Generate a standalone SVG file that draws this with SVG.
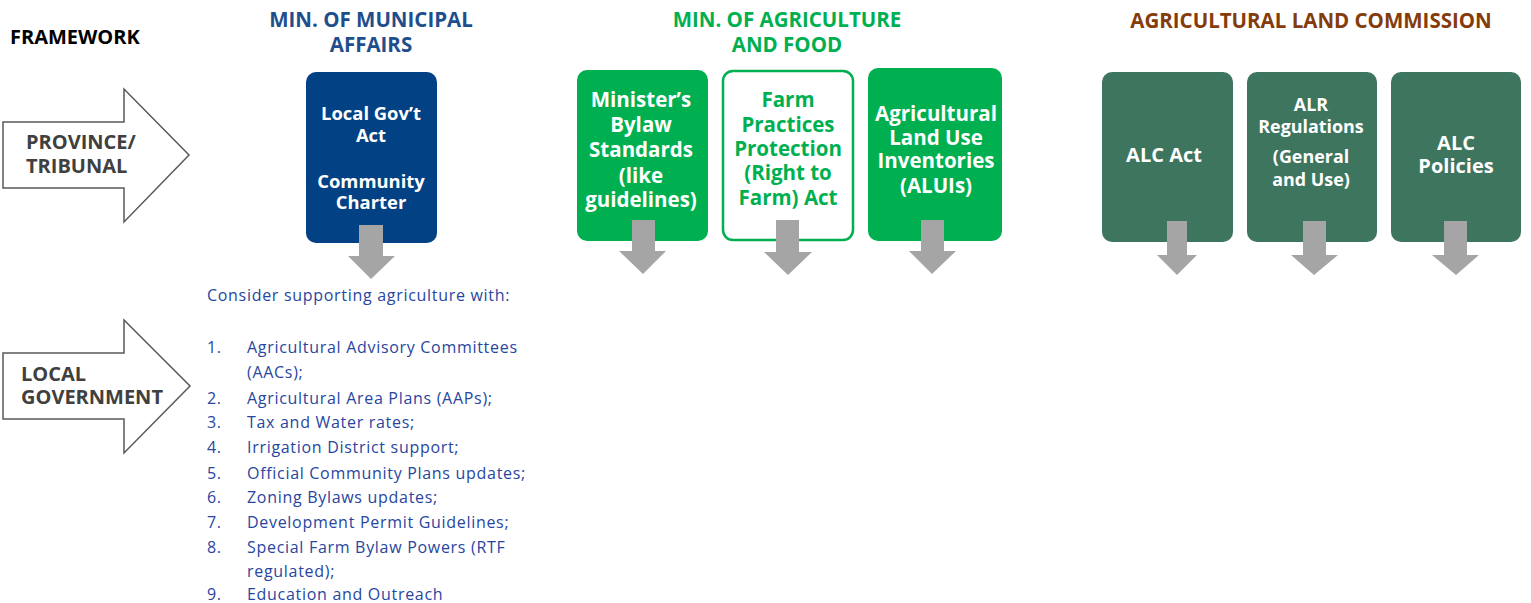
<svg xmlns="http://www.w3.org/2000/svg" width="1531" height="603" viewBox="0 0 1531 603">
<style>
.b{font-family:"Open Sans","DejaVu Sans",sans-serif;font-weight:bold}
.t{font-size:20.5px;text-anchor:middle}
.w{fill:#ffffff}
.hdr{font-size:20.5px;text-anchor:middle}
.side{font-size:20px;fill:#404040}
.lst{font-family:"Open Sans","Liberation Sans",sans-serif;font-size:16px;letter-spacing:0.7px;fill:#2846A0}
.big{fill:#ffffff;stroke:#595959;stroke-width:1.5}
.ga{fill:#A5A5A5}
</style>
<rect width="1531" height="603" fill="#ffffff"/>
<text class="b" x="10" y="44" font-size="20" fill="#000000">FRAMEWORK</text>

<g id="province">
<polygon class="big" points="3,122 124,122 124,89 189,155 124,222 124,188 3,188"/>
<text class="b side" x="26" y="149">PROVINCE/</text>
<text class="b side" x="26" y="173">TRIBUNAL</text>
</g>
<g id="local-government">
<polygon class="big" points="3,353 124,353 124,320 190,386 124,453 124,419 3,419"/>
<text class="b side" x="21" y="381">LOCAL</text>
<text class="b side" x="21" y="404">GOVERNMENT</text>
</g>

<g id="header-municipal">
<text class="b hdr" x="371" y="27" fill="#1F4E8C">MIN. OF MUNICIPAL</text>
<text class="b hdr" x="371" y="52" fill="#1F4E8C">AFFAIRS</text>
</g>
<g id="header-agriculture">
<text class="b hdr" x="787" y="27" fill="#00B050">MIN. OF AGRICULTURE</text>
<text class="b hdr" x="787" y="52" fill="#00B050">AND FOOD</text>
</g>
<g id="header-alc">
<text class="b hdr" x="1311" y="28" fill="#843C0C">AGRICULTURAL LAND COMMISSION</text>
</g>

<g id="local-govt-act">
<rect x="306" y="72" width="131" height="171" rx="10" fill="#034185"/>
<text class="b w" x="371" y="120" font-size="18.4" text-anchor="middle">Local Gov’t</text>
<text class="b w" x="371" y="142" font-size="18.4" text-anchor="middle">Act</text>
<text class="b w" x="371" y="188" font-size="18.4" text-anchor="middle">Community</text>
<text class="b w" x="371" y="209" font-size="18.4" text-anchor="middle">Charter</text>
</g>

<g id="ministers-bylaw">
<rect x="577" y="70" width="131" height="171" rx="10" fill="#00B050"/>
<text class="b t w" x="641" y="107">Minister’s</text>
<text class="b t w" x="641" y="132">Bylaw</text>
<text class="b t w" x="641" y="157">Standards</text>
<text class="b t w" x="641" y="183">(like</text>
<text class="b t w" x="641" y="207">guidelines)</text>
</g>

<g id="farm-practices">
<rect x="723" y="71" width="130" height="169" rx="10" fill="#ffffff" stroke="#00B050" stroke-width="2.5"/>
<text class="b t" x="788" y="107" fill="#00B050">Farm</text>
<text class="b t" x="788" y="132" fill="#00B050">Practices</text>
<text class="b t" x="788" y="156" fill="#00B050">Protection</text>
<text class="b t" x="788" y="180" fill="#00B050">(Right to</text>
<text class="b t" x="788" y="205" fill="#00B050">Farm) Act</text>
</g>

<g id="aluis">
<rect x="868" y="68" width="134" height="173" rx="10" fill="#00B050"/>
<text class="b t w" x="936" y="121">Agricultural</text>
<text class="b t w" x="936" y="145">Land Use</text>
<text class="b t w" x="936" y="168">Inventories</text>
<text class="b t w" x="936" y="193">(ALUIs)</text>
</g>

<g id="alc-act">
<rect x="1102" y="72" width="131" height="170" rx="10" fill="#3E755F"/>
<text class="b w" x="1164" y="162" font-size="20" text-anchor="middle">ALC Act</text>
</g>

<g id="alr-regulations">
<rect x="1247" y="72" width="130" height="170" rx="10" fill="#3E755F"/>
<text class="b w" x="1311" y="111" font-size="17.9" text-anchor="middle">ALR</text>
<text class="b w" x="1311" y="133" font-size="17.9" text-anchor="middle">Regulations</text>
<text class="b w" x="1311" y="163" font-size="17.9" text-anchor="middle">(General</text>
<text class="b w" x="1311" y="186" font-size="17.9" text-anchor="middle">and Use)</text>
</g>

<g id="alc-policies">
<rect x="1391" y="72" width="130" height="170" rx="10" fill="#3E755F"/>
<text class="b w" x="1456" y="150" font-size="20" text-anchor="middle">ALC</text>
<text class="b w" x="1456" y="173" font-size="20" text-anchor="middle">Policies</text>
</g>

<g id="connectors">
<polygon class="ga" points="359,225 383,225 383,256 395,256 371,279 348,256 359,256"/>
<polygon class="ga" points="632,220 655,220 655,251 666,251 643,274 619,251 632,251"/>
<polygon class="ga" points="776,220 799,220 799,252 812,252 788,275 764,252 776,252"/>
<polygon class="ga" points="921,220 944,220 944,251 956,251 932,274 909,251 921,251"/>
<polygon class="ga" points="1167,221 1187,221 1187,255 1197,255 1177,275 1157,255 1167,255"/>
<polygon class="ga" points="1303,221 1326,221 1326,255 1338,255 1314,275 1291,255 1303,255"/>
<polygon class="ga" points="1444,221 1467,221 1467,255 1479,255 1456,275 1432,255 1444,255"/>
</g>

<g id="local-list">
<text class="lst" x="207" y="301">Consider supporting agriculture with:</text>
<text class="lst" x="207" y="353">1.</text><text class="lst" x="247" y="353">Agricultural Advisory Committees</text>
<text class="lst" x="247" y="378">(AACs);</text>
<text class="lst" x="207" y="404">2.</text><text class="lst" x="247" y="404">Agricultural Area Plans (AAPs);</text>
<text class="lst" x="207" y="428">3.</text><text class="lst" x="247" y="428">Tax and Water rates;</text>
<text class="lst" x="207" y="453">4.</text><text class="lst" x="247" y="453">Irrigation District support;</text>
<text class="lst" x="207" y="479">5.</text><text class="lst" x="247" y="479">Official Community Plans updates;</text>
<text class="lst" x="207" y="503">6.</text><text class="lst" x="247" y="503">Zoning Bylaws updates;</text>
<text class="lst" x="207" y="528">7.</text><text class="lst" x="247" y="528">Development Permit Guidelines;</text>
<text class="lst" x="207" y="553">8.</text><text class="lst" x="247" y="553">Special Farm Bylaw Powers (RTF</text>
<text class="lst" x="247" y="577">regulated);</text>
<text class="lst" x="207" y="600">9.</text><text class="lst" x="247" y="600">Education and Outreach</text>
</g>
</svg>
